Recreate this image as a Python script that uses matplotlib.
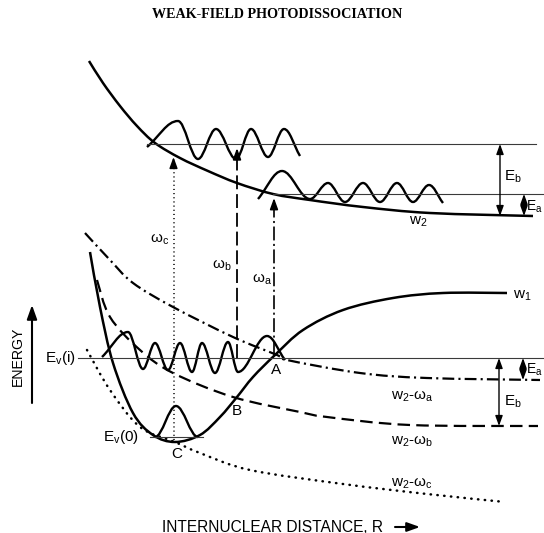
import matplotlib
matplotlib.use('Agg')
import matplotlib.pyplot as plt
from matplotlib.path import Path
from matplotlib.patches import PathPatch
import numpy as np

plt.rcParams['lines.scale_dashes'] = False
plt.rcParams['mathtext.fontset'] = 'custom'
plt.rcParams['mathtext.rm'] = 'Liberation Sans'
plt.rcParams['mathtext.it'] = 'Liberation Sans:italic'
plt.rcParams['font.family'] = ['Liberation Sans', 'DejaVu Sans']

# ---------------- data (pixel coords) -------------
# upper repulsive curve w2
W2_X = [89, 103, 120, 137, 155, 180, 208, 237, 273, 310, 363, 430, 533]
W2_Y = [61, 83, 106, 126, 143, 158, 171, 183, 194, 200, 207, 213, 216]
# bound curve w1
W1_X = [90, 100, 113, 133, 153, 175, 200, 220, 237, 253, 275, 303, 343, 393, 443, 507]
W1_Y = [252, 307, 363, 413, 435, 442, 435, 417, 397, 377, 355, 330, 310, 298, 293, 293]
# dressed curves
W2A_X = [85, 110, 133, 173, 233, 277, 287, 360, 427, 540]
W2A_Y = [233, 260, 283, 307, 337, 355, 360, 373, 378, 380]
W2B_X = [97, 110, 140, 173, 233, 300, 327, 410, 538]
W2B_Y = [280, 317, 350, 373, 397, 412, 417, 425, 426]
W2C_X = [87, 110, 140, 175, 200, 250, 343, 427, 505]
W2C_Y = [350, 390, 427, 442, 453, 470, 484, 494, 502]
# continuum wavefunction at Eb level (start, extrema..., end)
WAVE_B_X = [147, 178, 198, 216, 236, 251, 268, 284, 300]
WAVE_B_Y = [147, 121, 159, 129, 159, 129, 157, 129, 156]
# continuum wavefunction at Ea level
WAVE_A_X = [258, 282, 310, 328, 345, 363, 380, 397, 413, 429, 443]
WAVE_A_Y = [199, 171, 199, 183, 202, 183, 202, 183, 202, 185, 203]
# initial vibrational wavefunction Ev(i)
WAVE_I_X = [102, 128, 143, 155, 168, 180, 192, 202, 215, 228, 238, 267, 285]
WAVE_I_Y = [357, 332, 369, 343, 370, 343, 372, 343, 373, 342, 372, 336, 360]
# ground vibrational wavefunction Ev(0)
WAVE_0_X = [155, 176, 198]
WAVE_0_Y = [437, 406, 437]
# energy levels (y) and extents (x0, x1)
LEVEL_EB = (144, 147, 536)
LEVEL_EA = (194, 273, 544)
LEVEL_EI = (358, 78, 544)
LEVEL_E0 = (437, 150, 203)
# transitions: (x, y_bottom, y_tip)
TRANS_C = (173.5, 440, 157)
TRANS_B = (237, 358, 148)
TRANS_A = (274, 355, 198)
# energy gap arrows: (x, y_top, y_bottom)
GAP_EB_UP = (500, 144, 216)
GAP_EA_UP = (524, 194, 216)
GAP_EA_LO = (523, 358, 380)
GAP_EB_LO = (499, 358, 426)

# ---------------- helpers --------------------------------------------------
def smooth_path(xs, ys):
    P = np.column_stack([xs, ys]).astype(float)
    n = len(P)
    verts = [P[0]]
    codes = [Path.MOVETO]
    for i in range(n - 1):
        p0 = P[i - 1] if i > 0 else P[i]
        p1 = P[i]
        p2 = P[i + 1]
        p3 = P[i + 2] if i + 2 < n else P[i + 1]
        c1 = p1 + (p2 - p0) / 6.0
        c2 = p2 - (p3 - p1) / 6.0
        verts += [c1, c2, p2]
        codes += [Path.CURVE4] * 3
    return Path(verts, codes)


def wave_path(xs, ys, free_start=True, free_end=True):
    P = np.column_stack([xs, ys]).astype(float)
    n = len(P)
    verts = [P[0]]
    codes = [Path.MOVETO]
    k = 0.36
    for i in range(n - 1):
        a, b = P[i], P[i + 1]
        dx = b[0] - a[0]
        if i == 0 and free_start:
            c1 = a + 0.4 * (b - a)
        else:
            c1 = np.array([a[0] + k * dx, a[1]])
        if i == n - 2 and free_end:
            c2 = b - 0.4 * (b - a)
        else:
            c2 = np.array([b[0] - k * dx, b[1]])
        verts += [c1, c2, b]
        codes += [Path.CURVE4] * 3
    return Path(verts, codes)


def draw(ax, path, lw, ls='-', cap='butt'):
    p = PathPatch(path, fill=False, edgecolor='black', lw=lw, linestyle=ls,
                  capstyle=cap, joinstyle='round')
    ax.add_patch(p)


HEAD = '-|>,head_length=0.55,head_width=0.2'
HEAD2 = '<|-|>,head_length=0.55,head_width=0.2'


def up_arrow(ax, x, y_bot, y_tip, ls, lw=1.1, cap='butt'):
    ax.plot([x, x], [y_bot, y_tip + 6], color='black', lw=lw, linestyle=ls,
            solid_capstyle='butt', dash_capstyle=cap)
    ax.annotate('', xy=(x, y_tip), xytext=(x, y_tip + 9),
                arrowprops=dict(arrowstyle=HEAD, color='black', lw=lw,
                                mutation_scale=12, shrinkA=0, shrinkB=0))


def gap_arrow(ax, x, y0, y1):
    ax.annotate('', xy=(x, y0), xytext=(x, y1),
                arrowprops=dict(arrowstyle=HEAD2, color='black', lw=1.0,
                                mutation_scale=11, shrinkA=0, shrinkB=0))


# ---------------- figure ---------------------------------------------------
fig = plt.figure(figsize=(5.44, 5.33), dpi=100)
ax = fig.add_axes([0, 0, 1, 1])
ax.set_xlim(0, 544)
ax.set_ylim(533, 0)
ax.axis('off')

# levels
for (y, x0, x1) in (LEVEL_EB, LEVEL_EA, LEVEL_EI, LEVEL_E0):
    ax.plot([x0, x1], [y, y], color='#3a3a3a', lw=0.8)

# potential curves
draw(ax, smooth_path(W2_X, W2_Y), 1.8)
draw(ax, smooth_path(W1_X, W1_Y), 1.8)
draw(ax, smooth_path(W2A_X, W2A_Y), 1.6, (0, (8.5, 3, 1.5, 3)))
draw(ax, smooth_path(W2B_X, W2B_Y), 1.6, (0, (9, 4.5)))
draw(ax, smooth_path(W2C_X, W2C_Y), 1.8, (0, (0.3, 4.6)), cap='round')

# wavefunctions
draw(ax, wave_path(WAVE_B_X, WAVE_B_Y), 1.7)
draw(ax, wave_path(WAVE_A_X, WAVE_A_Y), 1.7)
draw(ax, wave_path(WAVE_I_X, WAVE_I_Y), 1.7)
draw(ax, wave_path(WAVE_0_X, WAVE_0_Y, False, False), 1.7)

# transitions
up_arrow(ax, TRANS_C[0], TRANS_C[1], TRANS_C[2], (0, (0.8, 2.2)), lw=1.1)
up_arrow(ax, TRANS_B[0], TRANS_B[1], TRANS_B[2], (0, (10, 3.5)), lw=1.3)
up_arrow(ax, TRANS_A[0], TRANS_A[1], TRANS_A[2], (0, (10, 2.5, 1.5, 2.5)), lw=1.2)

# energy gaps
for g in (GAP_EB_UP, GAP_EA_UP, GAP_EA_LO, GAP_EB_LO):
    gap_arrow(ax, g[0], g[1], g[2])

# axis arrows
ax.annotate('', xy=(32, 305), xytext=(32, 403),
            arrowprops=dict(arrowstyle='-|>,head_length=0.7,head_width=0.25',
                            color='black', lw=1.5, mutation_scale=12,
                            shrinkA=0, shrinkB=0))
ax.annotate('', xy=(420, 527), xytext=(395, 527),
            arrowprops=dict(arrowstyle='-|>,head_length=0.7,head_width=0.25',
                            color='black', lw=1.5, mutation_scale=11,
                            shrinkA=0, shrinkB=0))

# texts
ax.text(277, 15, 'WEAK-FIELD PHOTODISSOCIATION', ha='center', va='center',
        fontsize=10.2, fontweight='bold', family='Liberation Serif')
ax.text(18, 356, 'ENERGY', rotation=90, ha='center', va='center', fontsize=10.2)
ax.text(162, 527, 'INTERNUCLEAR DISTANCE, R', ha='left', va='center', fontsize=11.2)

fs = 11
labels = [
    (160, 240, r'ω$_\mathregular{c}$', 'center', fs),
    (222, 266, r'ω$_\mathregular{b}$', 'center', fs),
    (262, 280, r'ω$_\mathregular{a}$', 'center', fs),
    (522, 296, r'w$_\mathregular{1}$', 'center', fs),
    (418, 222, r'w$_\mathregular{2}$', 'center', fs),
    (513, 177, r'E$_\mathregular{b}$', 'center', fs),
    (543, 207, r'E$_\mathregular{a}$', 'right', 10),
    (543, 370, r'E$_\mathregular{a}$', 'right', 10),
    (513, 402, r'E$_\mathregular{b}$', 'center', fs),
    (412, 397, r'w$_\mathregular{2}$-ω$_\mathregular{a}$', 'center', fs),
    (412, 442, r'w$_\mathregular{2}$-ω$_\mathregular{b}$', 'center', fs),
    (412, 484, r'w$_\mathregular{2}$-ω$_\mathregular{c}$', 'center', fs),
    (60, 358, r'E$_\mathregular{v}$(i)', 'center', fs),
    (121, 437, r'E$_\mathregular{v}$(0)', 'center', fs),
    (276, 370, 'A', 'center', fs),
    (237, 411, 'B', 'center', fs),
    (177, 454, 'C', 'center', fs),
]
for x, y, s, ha, f in labels:
    ax.text(x, y, s, ha=ha, va='center', fontsize=f)

fig.savefig('out.png', dpi=100)
